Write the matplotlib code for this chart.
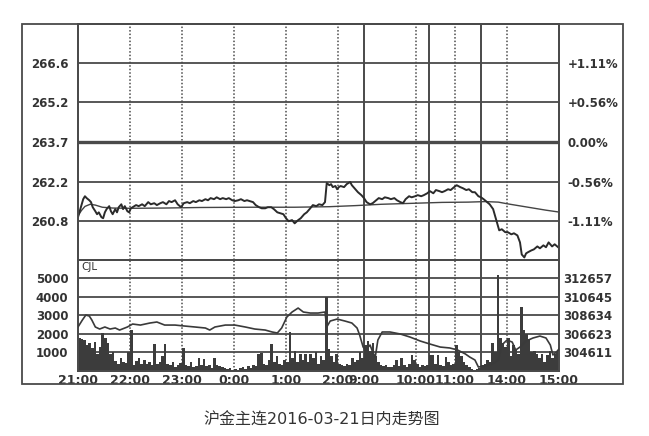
import matplotlib
matplotlib.use('Agg')
import matplotlib.pyplot as plt
from matplotlib.patches import Rectangle

# minutes since 21:00 open (breaks removed: 21:00-2:30, 9:00-10:15, 10:30-11:30, 13:30-15:00)
price_min = [0, 2, 6, 8, 10, 13, 15, 17, 20, 22, 24, 27, 29, 31, 33, 36, 38, 40, 43, 45,
             47, 50, 52, 54, 57, 59, 61, 63, 67, 70, 74, 77, 81, 84, 88, 91, 95, 98, 102, 105,
             108, 112, 115, 119, 122, 126, 129, 133, 136, 140, 143, 147, 150, 153, 157, 160, 164, 167, 171, 174,
             178, 181, 185, 188, 192, 195, 198, 202, 205, 209, 212, 216, 219, 223, 226, 230, 233, 237, 240, 243,
             247, 250, 254, 257, 261, 264, 268, 271, 275, 278, 282, 285, 287, 290, 292, 294, 297, 299, 301, 303,
             307, 310, 314, 316, 320, 323, 327, 330, 333, 337, 340, 344, 347, 351, 354, 358, 361, 365, 368, 372,
             375, 378, 382, 385, 389, 392, 396, 399, 403, 406, 410, 413, 417, 420, 423, 427, 430, 434, 437, 441,
             444, 448, 451, 455, 458, 462, 465, 468, 472, 475, 479, 481, 484, 486, 489, 493, 496, 500, 503, 507,
             510, 512, 515, 517, 519, 523, 526, 530, 533, 537, 540, 543, 547, 550, 554]
price = [260.90, 261.12, 261.57, 261.68, 261.61, 261.53, 261.46, 261.27, 261.12, 261.01, 261.08, 260.90, 260.86, 261.08, 261.20, 261.31, 261.12, 261.01, 261.20, 261.08,
         261.27, 261.38, 261.20, 261.31, 261.12, 261.08, 261.23, 261.27, 261.35, 261.31, 261.38, 261.31, 261.46, 261.38, 261.42, 261.35, 261.42, 261.46, 261.38, 261.50,
         261.46, 261.53, 261.38, 261.27, 261.42, 261.46, 261.42, 261.50, 261.46, 261.53, 261.50, 261.57, 261.53, 261.61, 261.57, 261.64, 261.57, 261.61, 261.57, 261.61,
         261.53, 261.50, 261.53, 261.57, 261.50, 261.53, 261.50, 261.46, 261.35, 261.27, 261.23, 261.23, 261.27, 261.27, 261.20, 261.08, 261.05, 261.01, 260.86, 260.75,
         260.79, 260.67, 260.79, 260.86, 261.01, 261.08, 261.23, 261.35, 261.31, 261.38, 261.35, 261.46, 262.17, 262.09, 262.13, 262.02, 262.06, 261.94, 262.02, 262.06,
         262.02, 262.13, 262.21, 262.09, 261.94, 261.83, 261.72, 261.61, 261.46, 261.38, 261.42, 261.53, 261.61, 261.57, 261.64, 261.61, 261.57, 261.61, 261.53, 261.46,
         261.42, 261.57, 261.68, 261.64, 261.68, 261.72, 261.68, 261.72, 261.79, 261.87, 261.79, 261.91, 261.87, 261.83, 261.87, 261.94, 261.91, 262.02, 262.09, 262.02,
         261.98, 261.91, 261.94, 261.83, 261.83, 261.68, 261.64, 261.57, 261.46, 261.38, 261.20, 260.97, 260.64, 260.41, 260.45, 260.34, 260.34, 260.26, 260.30, 260.22,
         259.96, 259.51, 259.40, 259.55, 259.59, 259.66, 259.70, 259.81, 259.74, 259.85, 259.78, 259.96, 259.81, 259.89, 259.78]

avg_min = [0, 4, 8, 14, 20, 28, 40, 60, 100, 140, 200, 250, 290, 320, 350, 390, 420, 450, 470, 485, 495, 510, 525, 540, 555]
avg_price = [260.95, 261.15, 261.30, 261.38, 261.35, 261.27, 261.24, 261.23, 261.24, 261.26, 261.27, 261.27, 261.29, 261.33,
             261.38, 261.42, 261.45, 261.46, 261.48, 261.46, 261.40, 261.32, 261.24, 261.16, 261.09]

# volume, one value per 3 minutes
vol = [1800, 1700, 1650, 1400, 1500, 1250, 1550, 900, 1300, 2050, 1800, 1500, 900, 1000, 550, 400, 700, 500, 450, 1000,
       2200, 300, 550, 700, 400, 600, 350, 500, 300, 1450, 400, 500, 800, 1450, 350, 300, 500, 200, 300, 450,
       1250, 300, 250, 500, 200, 250, 700, 300, 650, 250, 300, 150, 700, 300, 250, 200, 150, 100, 150, 80,
       100, 80, 150, 200, 120, 250, 150, 300, 250, 900, 950, 400, 300, 600, 1450, 500, 800, 400, 300, 600,
       500, 2100, 700, 1100, 500, 900, 600, 900, 500, 900, 700, 1000, 400, 800, 600, 4000, 1200, 800, 500, 900,
       400, 300, 250, 400, 300, 700, 500, 600, 1000, 700, 1400, 1600, 1100, 1500, 800, 500, 300, 250, 300, 200,
       200, 300, 600, 250, 700, 300, 200, 400, 850, 600, 400, 200, 300, 250, 300, 850, 850, 400, 850, 300,
       250, 750, 500, 300, 400, 1400, 1000, 800, 500, 300, 200, 100, 80, 100, 150, 300, 400, 600, 500, 1500,
       1000, 5150, 1800, 1500, 1300, 1750, 800, 1400, 1200, 900, 3450, 2200, 2000, 1700, 1000, 1100, 900, 700, 900, 500,
       850, 1100, 700, 900, 1100]
vol_min = [3 * i for i in range(len(vol))]

# open interest (持仓量)
oi_min = [0, 5, 9, 13, 16, 20, 25, 31, 37, 43, 48, 57, 63, 72, 83, 91, 100, 112, 123, 135,
          147, 152, 158, 170, 181, 193, 204, 216, 224, 230, 235, 241, 247, 254, 260, 268, 277, 285, 287, 291,
          299, 308, 316, 322, 325, 329, 332, 337, 340, 343, 346, 351, 360, 372, 383, 395, 406, 418, 429, 438,
          447, 452, 458, 462, 470, 478, 485, 489, 495, 501, 505, 510, 517, 525, 533, 540, 545, 548, 552, 555]
oi = [307360, 308110, 308650, 308550, 308110, 307360, 307140, 307360, 307140, 307250, 307030, 307360, 307680, 307570, 307790, 307900, 307570, 307570, 307465, 307360,
      307250, 307030, 307360, 307570, 307570, 307360, 307140, 307030, 306820, 306710, 307250, 308440, 308980, 309410, 308980, 308870, 308870, 308980, 307360, 308005,
      308220, 308005, 307790, 307250, 306490, 305190, 304870, 305410, 304650, 304110, 305950, 306820, 306820, 306600, 306275, 305840, 305520, 305190, 305090, 304870,
      304440, 304110, 303790, 303030, 303140, 303360, 303790, 305410, 305950, 305730, 304870, 305190, 305840, 306170, 306380, 306170, 305410, 304330, 304650, 304980]

prev_settle = 263.7
pct_ticks = [-1.11, -0.56, 0.00, 0.56, 1.11]
price_labels = ['260.8', '262.2', '263.7', '265.2', '266.6']
pct_labels = ['-1.11%', '-0.56%', '0.00%', '+0.56%', '+1.11%']
vol_ticks = [1000, 2000, 3000, 4000, 5000]
vol_labels = ['1000', '2000', '3000', '4000', '5000']
oi_ticks = [304611, 306623, 308634, 310645, 312657]
oi_labels = ['304611', '306623', '308634', '310645', '312657']
time_ticks = [0, 60, 120, 180, 240, 300, 330, 390, 435, 495, 555]
time_labels = ['21:00', '22:00', '23:00', '0:00', '1:00', '2:00', '9:00', '10:00', '11:00', '14:00', '15:00']
dotted_at = [60, 120, 180, 240, 300, 390, 435, 495]
solid_at = [330, 405, 465]

ink = '#333333'
grid_c = '#4a4a4a'
lab = dict(fontsize=8.5, fontweight='bold', color=ink)

fig = plt.figure(figsize=(6.49, 4.36), dpi=100)
W, H = 649, 436
ax_p = fig.add_axes([78 / W, 1 - 260 / H, 481 / W, 236 / H])
ax_v = fig.add_axes([78 / W, 1 - 371 / H, 481 / W, 111 / H], sharex=ax_p)

# outer frame
fig.add_artist(Rectangle((22 / W, 1 - 384 / H), 601 / W, 360 / H, transform=fig.transFigure,
                         fill=False, lw=1.3, ec=grid_c))

# price panel
price_ticks = [prev_settle * (1 + p / 100) for p in pct_ticks]
span = prev_settle * 0.01667
ax_p.set_ylim(prev_settle - span, prev_settle + span)
ax_p.set_xlim(0, 555)
for y in price_ticks:
    ax_p.axhline(y, color=grid_c, lw=2.4 if y == prev_settle else 1.3, zorder=1)
for ax in (ax_p, ax_v):
    for x in dotted_at:
        ax.axvline(x, color=grid_c, lw=1.1, ls=(0, (1, 1.3)), zorder=1)
    for x in solid_at:
        ax.axvline(x, color=grid_c, lw=1.4, zorder=1)
ax_p.plot(avg_min, avg_price, color='#444444', lw=1.0, zorder=3)
ax_p.plot(price_min, price, color='#2b2b2b', lw=1.4, zorder=4)
ax_p.set_yticks(price_ticks, price_labels, **lab)
ax_p.tick_params(axis='y', length=0, pad=7)
ax_p.tick_params(axis='x', length=0, labelbottom=False)
ax_p2 = ax_p.twinx()
ax_p2.set_ylim(ax_p.get_ylim())
ax_p2.set_yticks(price_ticks, pct_labels, **lab)
ax_p2.tick_params(axis='y', length=0, pad=6)

# volume panel
ax_v.set_ylim(0, 5970)
for y in vol_ticks:
    ax_v.axhline(y, color=grid_c, lw=1.3, zorder=1)
ax_v.bar(vol_min, vol, width=3, align='edge', color='#3c3c3c', lw=0, zorder=2)
ax_v.set_yticks(vol_ticks, vol_labels, **lab)
ax_v.tick_params(axis='y', length=0, pad=7)
ax_v.set_xticks(time_ticks, time_labels, fontsize=9, fontweight='bold', color=ink)
ax_v.tick_params(axis='x', length=0, pad=2)
ax_v.text(0.006, 0.985, 'CJL', transform=ax_v.transAxes, ha='left', va='top', fontsize=7.5, color=ink)
ax_oi = ax_v.twinx()
oi_base = 302600
ax_oi.set_ylim(oi_base, oi_base + 5.97 * 2011.4)
ax_oi.plot(oi_min, oi, color='#3a3a3a', lw=1.2, zorder=3)
ax_oi.set_yticks(oi_ticks, oi_labels, **lab)
ax_oi.tick_params(axis='y', length=0, pad=3)

for ax in (ax_p, ax_p2, ax_v, ax_oi):
    for s in ax.spines.values():
        s.set_color(grid_c)
        s.set_linewidth(1.3)

fig.text(322 / W, 1 - 420 / H, '沪金主连2016-03-21日内走势图', ha='center', va='center',
         fontsize=11.5, color=ink, family=['DejaVu Sans', 'Noto Sans CJK SC'])

fig.savefig('out.png', dpi=100, facecolor='white')
